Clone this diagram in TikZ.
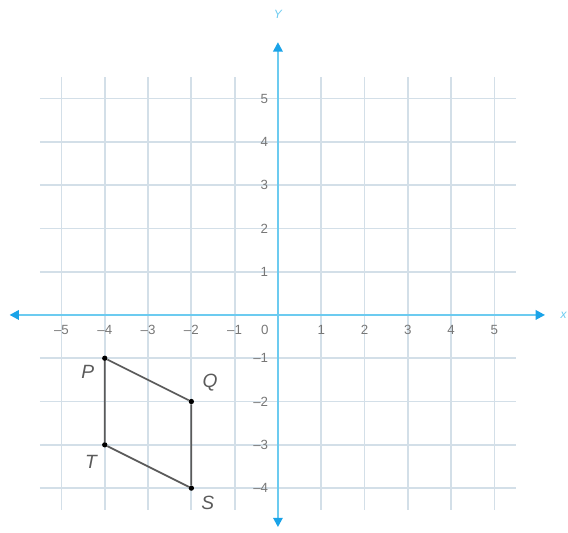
\documentclass[tikz,border=0pt]{standalone}
\usepackage{fontspec}
\setmainfont{Liberation Sans}
\usetikzlibrary{arrows.meta}
\definecolor{gridc}{HTML}{D3DFE8}
\definecolor{axisc}{HTML}{6CCBF0}
\definecolor{tipc}{HTML}{1AA3E8}
\definecolor{labc}{HTML}{777777}
\definecolor{shapec}{HTML}{5A5A5A}
\tikzset{
  gridline/.style={draw=gridc, line width=1.3pt},
  axisline/.style={draw=axisc, line width=1.6pt, {Triangle[length=7pt,width=7pt,color=tipc]}-{Triangle[length=7pt,width=7pt,color=tipc]}},
  ticklab/.style={text=labc, font=\rmfamily\normalsize, inner sep=0pt},
  vlab/.style={text=shapec, font=\rmfamily\Large\itshape, inner sep=0pt},
  axlab/.style={text=axisc, font=\rmfamily\small\itshape, inner sep=0pt},
  edge/.style={draw=shapec, line width=1.3pt},
  pt/.style={circle, fill=black, inner sep=0pt, minimum size=4pt}
}
\begin{document}
\begin{tikzpicture}[x=32.5pt,y=32.5pt]
\useasboundingbox (-6.42,-5.035) rectangle (6.70,7.275);
% grid
\foreach \i in {-5,...,5} \draw[gridline] (\i,-4.5) -- (\i,5.5);
\foreach \j in {-4,...,5} \draw[gridline] (-5.5,\j) -- (5.5,\j);
% axes
\coordinate (xl) at (-6.2,0);
\coordinate (xr) at (6.17,0);
\coordinate (yb) at (0,-4.9);
\coordinate (yt) at (0,6.3);
\draw[axisline] (xl) -- (xr);
\draw[axisline] (yb) -- (yt);
\node[axlab] (xlab) at (6.6,0) {x};
\node[axlab] (ylab) at (0,6.95) {Y};
% tick labels
\foreach \i in {-5,...,-1} \node[ticklab] (tx\i) at (\i,-0.35) {\textendash\the\numexpr-\i\relax};
\foreach \i in {1,...,5} \node[ticklab] (tx\i) at (\i,-0.35) {\i};
\node[ticklab] (t0) at (-0.3,-0.35) {0};
\foreach \j in {1,...,5} \node[ticklab, anchor=east] (ty\j) at (-0.22,\j) {\j};
\foreach \j in {-4,...,-1} \node[ticklab, anchor=east] (ty\j) at (-0.22,\j) {\textendash\the\numexpr-\j\relax};
% quadrilateral
\node[pt] (P) at (-4,-1) {};
\node[pt] (Q) at (-2,-2) {};
\node[pt] (S) at (-2,-4) {};
\node[pt] (T) at (-4,-3) {};
\draw[edge] (P) -- (Q) -- (S) -- (T) -- (P);
\node[vlab] (Pl) at (-4.39,-1.32) {P};
\node[vlab] (Ql) at (-1.57,-1.57) {Q};
\node[vlab] (Tl) at (-4.32,-3.39) {T};
\node[vlab] (Sl) at (-1.62,-4.34) {S};
\end{tikzpicture}
\end{document}
